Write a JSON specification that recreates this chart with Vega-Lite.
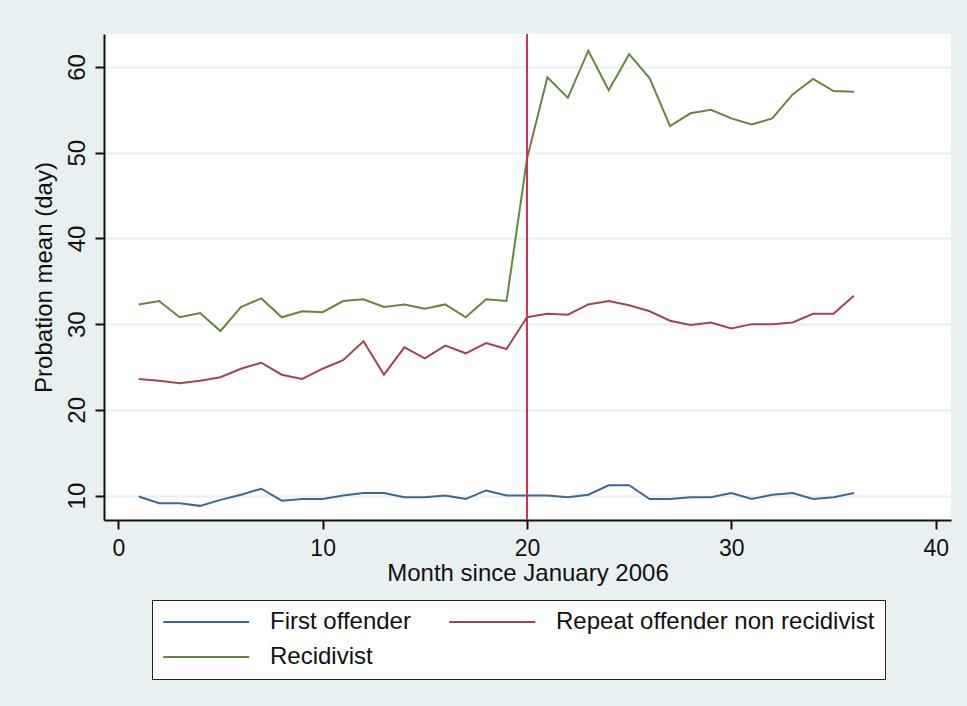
{
  "$schema": "https://vega.github.io/schema/vega-lite/v6.json",
  "width": 847,
  "height": 486,
  "autosize": {"type": "none"},
  "padding": {"left": 104, "top": 34, "right": 16, "bottom": 186},
  "background": "#e8f0f2",
  "config": {
    "view": {"fill": "white", "stroke": null},
    "font": "Liberation Sans",
    "axis": {
      "domainColor": "#111",
      "domainWidth": 2,
      "tickColor": "#111",
      "tickSize": 9,
      "tickWidth": 2,
      "labelFontSize": 24,
      "labelColor": "#111",
      "titleFontSize": 24,
      "titleFontWeight": "normal",
      "titleColor": "#111",
      "labelFont": "Liberation Sans",
      "titleFont": "Liberation Sans"
    },
    "legend": {"labelFont": "Liberation Sans"}
  },
  "layer": [
    {
      "data": {
        "values": [
          {"month": 1, "First offender": 9.9, "Repeat offender non recidivist": 23.6, "Recidivist": 32.3},
          {"month": 2, "First offender": 9.1, "Repeat offender non recidivist": 23.4, "Recidivist": 32.7},
          {"month": 3, "First offender": 9.1, "Repeat offender non recidivist": 23.1, "Recidivist": 30.8},
          {"month": 4, "First offender": 8.8, "Repeat offender non recidivist": 23.4, "Recidivist": 31.3},
          {"month": 5, "First offender": 9.5, "Repeat offender non recidivist": 23.8, "Recidivist": 29.2},
          {"month": 6, "First offender": 10.1, "Repeat offender non recidivist": 24.8, "Recidivist": 32.0},
          {"month": 7, "First offender": 10.8, "Repeat offender non recidivist": 25.5, "Recidivist": 33.0},
          {"month": 8, "First offender": 9.4, "Repeat offender non recidivist": 24.1, "Recidivist": 30.8},
          {"month": 9, "First offender": 9.6, "Repeat offender non recidivist": 23.6, "Recidivist": 31.5},
          {"month": 10, "First offender": 9.6, "Repeat offender non recidivist": 24.8, "Recidivist": 31.4},
          {"month": 11, "First offender": 10.0, "Repeat offender non recidivist": 25.8, "Recidivist": 32.7},
          {"month": 12, "First offender": 10.3, "Repeat offender non recidivist": 28.0, "Recidivist": 32.9},
          {"month": 13, "First offender": 10.3, "Repeat offender non recidivist": 24.1, "Recidivist": 32.0},
          {"month": 14, "First offender": 9.8, "Repeat offender non recidivist": 27.3, "Recidivist": 32.3},
          {"month": 15, "First offender": 9.8, "Repeat offender non recidivist": 26.0, "Recidivist": 31.8},
          {"month": 16, "First offender": 10.0, "Repeat offender non recidivist": 27.5, "Recidivist": 32.3},
          {"month": 17, "First offender": 9.6, "Repeat offender non recidivist": 26.6, "Recidivist": 30.8},
          {"month": 18, "First offender": 10.6, "Repeat offender non recidivist": 27.8, "Recidivist": 32.9},
          {"month": 19, "First offender": 10.0, "Repeat offender non recidivist": 27.1, "Recidivist": 32.7},
          {"month": 20, "First offender": 10.0, "Repeat offender non recidivist": 30.8, "Recidivist": 49.3},
          {"month": 21, "First offender": 10.0, "Repeat offender non recidivist": 31.2, "Recidivist": 58.8},
          {"month": 22, "First offender": 9.8, "Repeat offender non recidivist": 31.1, "Recidivist": 56.4},
          {"month": 23, "First offender": 10.1, "Repeat offender non recidivist": 32.3, "Recidivist": 61.9},
          {"month": 24, "First offender": 11.2, "Repeat offender non recidivist": 32.7, "Recidivist": 57.3},
          {"month": 25, "First offender": 11.2, "Repeat offender non recidivist": 32.2, "Recidivist": 61.5},
          {"month": 26, "First offender": 9.6, "Repeat offender non recidivist": 31.5, "Recidivist": 58.7},
          {"month": 27, "First offender": 9.6, "Repeat offender non recidivist": 30.4, "Recidivist": 53.1},
          {"month": 28, "First offender": 9.8, "Repeat offender non recidivist": 29.9, "Recidivist": 54.6},
          {"month": 29, "First offender": 9.8, "Repeat offender non recidivist": 30.2, "Recidivist": 55.0},
          {"month": 30, "First offender": 10.3, "Repeat offender non recidivist": 29.5, "Recidivist": 54.0},
          {"month": 31, "First offender": 9.6, "Repeat offender non recidivist": 30.0, "Recidivist": 53.3},
          {"month": 32, "First offender": 10.1, "Repeat offender non recidivist": 30.0, "Recidivist": 54.0},
          {"month": 33, "First offender": 10.3, "Repeat offender non recidivist": 30.2, "Recidivist": 56.8},
          {"month": 34, "First offender": 9.6, "Repeat offender non recidivist": 31.2, "Recidivist": 58.6},
          {"month": 35, "First offender": 9.8, "Repeat offender non recidivist": 31.2, "Recidivist": 57.2},
          {"month": 36, "First offender": 10.3, "Repeat offender non recidivist": 33.3, "Recidivist": 57.1}
        ]
      },
      "transform": [
        {"fold": ["First offender", "Repeat offender non recidivist", "Recidivist"], "as": ["group", "value"]}
      ],
      "mark": {"type": "line", "strokeWidth": 2},
      "encoding": {
        "x": {
          "field": "month",
          "type": "quantitative",
          "scale": {"domain": [-0.7, 40.75], "nice": false, "zero": false},
          "axis": {
            "values": [0, 10, 20, 30, 40],
            "title": "Month since January 2006",
            "grid": false,
            "labelFontSize": 23,
            "labelPadding": 8,
            "titlePadding": 1,
            "labelFlush": false
          }
        },
        "y": {
          "field": "value",
          "type": "quantitative",
          "scale": {"domain": [7.15, 63.85], "nice": false, "zero": false},
          "axis": {
            "values": [10, 20, 30, 40, 50, 60],
            "title": "Probation mean (day)",
            "grid": true,
            "gridColor": "#e8f0f2",
            "gridWidth": 2,
            "labelAngle": -90,
            "labelAlign": "center",
            "labelBaseline": "bottom",
            "labelPadding": 6,
            "titlePadding": 9,
            "labelFlush": false
          }
        },
        "color": {
          "field": "group",
          "type": "nominal",
          "sort": ["First offender", "Repeat offender non recidivist", "Recidivist"],
          "scale": {
            "domain": ["First offender", "Repeat offender non recidivist", "Recidivist"],
            "range": ["#3f6891", "#a3454f", "#66863f"]
          },
          "legend": {
            "title": null,
            "orient": "none",
            "legendX": 48,
            "legendY": 566,
            "direction": "horizontal",
            "columns": 2,
            "symbolType": "M-1,0H7",
            "symbolSize": 462,
            "symbolStrokeWidth": 2,
            "symbolFillColor": "transparent",
            "labelFontSize": 24,
            "labelColor": "#111",
            "labelOffset": 84,
            "labelLimit": 500,
            "fillColor": "white",
            "strokeColor": "#222",
            "padding": 10,
            "columnPadding": 34,
            "rowPadding": 11
          }
        }
      }
    },
    {
      "data": {"values": [{"month": 20}]},
      "mark": {"type": "rule", "color": "#d42f55", "strokeWidth": 2},
      "encoding": {"x": {"field": "month", "type": "quantitative"}}
    }
  ]
}
